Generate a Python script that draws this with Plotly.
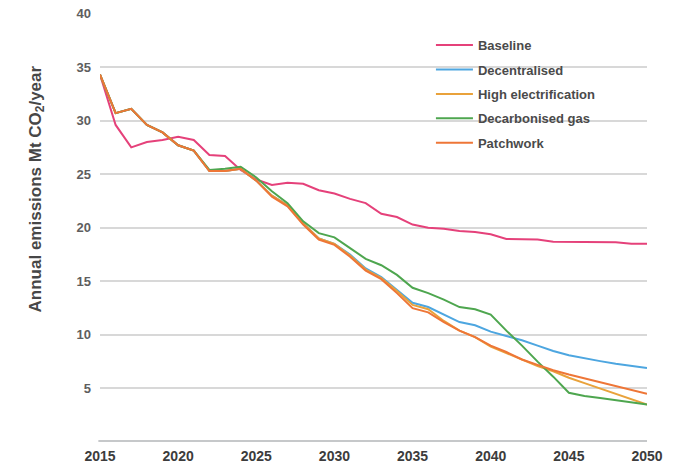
import plotly.graph_objects as go

years = list(range(2015, 2051))

baseline = [34.3, 29.6, 27.5, 28.0, 28.2, 28.5, 28.2, 26.8, 26.7, 25.4,
            24.5, 24.0, 24.2, 24.1, 23.5, 23.2, 22.7, 22.3, 21.3, 21.0,
            20.3, 20.0, 19.9, 19.7, 19.6, 19.4, 18.95, 18.95, 18.9, 18.7,
            18.7, 18.65, 18.65, 18.65, 18.5, 18.5]

decentralised = [34.3, 30.7, 31.1, 29.6, 28.9, 27.7, 27.2, 25.3, 25.3, 25.5,
                 24.4, 23.0, 22.1, 20.4, 19.0, 18.5, 17.5, 16.2, 15.4, 14.2,
                 13.0, 12.6, 11.9, 11.2, 10.9, 10.3, 9.9, 9.5, 9.0, 8.5,
                 8.1, 7.8, 7.55, 7.3, 7.1, 6.9]

high_electrification = [34.3, 30.7, 31.1, 29.6, 28.9, 27.7, 27.2, 25.3, 25.3, 25.5,
                        24.4, 23.0, 22.1, 20.4, 19.0, 18.5, 17.4, 16.1, 15.3, 14.1,
                        12.8, 12.4, 11.3, 10.4, 9.8, 8.9, 8.3, 7.7, 7.1, 6.6,
                        6.0, 5.5, 5.0, 4.5, 4.0, 3.5]

decarbonised_gas = [34.3, 30.7, 31.1, 29.6, 28.9, 27.7, 27.2, 25.4, 25.5, 25.7,
                    24.7, 23.4, 22.3, 20.6, 19.5, 19.1, 18.1, 17.1, 16.5, 15.6,
                    14.4, 13.9, 13.3, 12.6, 12.4, 11.9, 10.4, 9.0, 7.5, 6.1,
                    4.6, 4.3, 4.1, 3.9, 3.7, 3.5]

patchwork = [34.3, 30.7, 31.1, 29.6, 28.9, 27.7, 27.2, 25.3, 25.3, 25.5,
             24.4, 22.9, 22.0, 20.3, 18.9, 18.4, 17.3, 16.0, 15.2, 13.9,
             12.5, 12.1, 11.2, 10.4, 9.8, 9.0, 8.4, 7.7, 7.2, 6.7,
             6.3, 5.95, 5.6, 5.25, 4.9, 4.5]

series = [
    ("Baseline", baseline, "#e5417a"),
    ("Decentralised", decentralised, "#4da6e0"),
    ("High electrification", high_electrification, "#e9a23b"),
    ("Decarbonised gas", decarbonised_gas, "#4ea64f"),
    ("Patchwork", patchwork, "#ee7637"),
]

fig = go.Figure()
for name, vals, color in series:
    fig.add_trace(go.Scatter(x=years, y=vals, name=name, mode="lines",
                             legendgroup=name,
                             line=dict(color=color, width=2)))

# thick grey baseline at zero
fig.add_shape(type="line", xref="paper", yref="y", x0=-0.003, x1=1, y0=0, y1=0,
              line=dict(color="#c6c8ca", width=4), layer="above")

fig.add_annotation(text="Annual emissions Mt CO<sub>2</sub>/year",
                   xref="paper", yref="paper", x=-0.116, y=0.59,
                   xanchor="center", yanchor="middle",
                   textangle=-90, showarrow=False,
                   font=dict(size=17, color="#474747", weight="bold"))

fig.update_layout(
    width=687, height=466,
    margin=dict(l=100, r=40, t=13, b=24),
    paper_bgcolor="white", plot_bgcolor="white",
    font=dict(family="Arial, Liberation Sans, sans-serif"),
    showlegend=True,
    legend=dict(x=0.605, y=0.96, xanchor="left", yanchor="top",
                tracegroupgap=4.5, itemwidth=37, bgcolor="rgba(0,0,0,0)",
                font=dict(size=13, color="#4a4a4a", weight="bold")),
    xaxis=dict(range=[2015, 2050], tickvals=list(range(2015, 2051, 5)),
               showgrid=False, zeroline=False, showline=False,
               automargin=False, ticklabelstandoff=4,
               tickfont=dict(size=14, color="#3c3c3c", weight="bold")),
    yaxis=dict(range=[0, 40.05], tickvals=list(range(5, 45, 5)),
               showgrid=True, gridcolor="#d8d8d8", gridwidth=2,
               zeroline=False, showline=False, automargin=False,
               ticklabelstandoff=8,
               tickfont=dict(size=13, color="#5e5e5e", weight="bold")),
)

fig.write_html("out.html", config={"displayModeBar": False},
               post_script="document.body.style.margin='0px';")
